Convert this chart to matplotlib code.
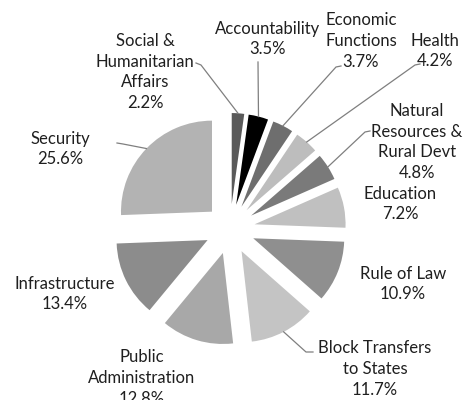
import matplotlib.pyplot as plt
import numpy as np

categories = ['Social &\nHumanitarian\nAffairs', 'Accountability', 'Economic\nFunctions', 'Health',
              'Natural\nResources &\nRural Devt', 'Education', 'Rule of Law',
              'Block Transfers\nto States', 'Public\nAdministration', 'Infrastructure', 'Security']
shares = [2.2, 3.5, 3.7, 4.2, 4.8, 7.2, 10.9, 11.7, 12.8, 13.4, 25.6]
colors = ['#5a5a5a', '#000000', '#6e6e6e', '#bdbdbd', '#7a7a7a', '#c0c0c0',
          '#8f8f8f', '#c4c4c4', '#a8a8a8', '#8c8c8c', '#b3b3b3']

# pixel layout of the 465x400 picture
W, H = 465, 400
cx, cy, R = 230, 229, 91
EXPLODE = 25 / R

# label centres (px) and leader elbows (px); None = no leader
label_pos = [(145, 72), (268, 39), (361, 41), (435, 51), (417, 142), (400, 204),
             (403, 284), (375, 369), (142, 378), (65, 294), (60, 149)]
elbows = [((201, 65), (196, 63)), ((258, 62), (258, 62)), ((336, 67), (341, 66)),
          ((415, 65), (420, 64)), ((365, 132), (370, 131)), None, None,
          ((306, 352), (313, 352)), None, None, ((123, 144), (117, 143))]


def px(x, y):
  return (x - cx) / R, (cy - y) / R


fig = plt.figure(figsize=(W / 100, H / 100), dpi=100)
ax = fig.add_axes([0, 0, 1, 1])
wedges, _ = ax.pie(shares, colors=colors, startangle=90, counterclock=False,
                   explode=[EXPLODE] * len(shares), radius=1,
                   wedgeprops=dict(linewidth=0))
ax.set_xlim(px(0, 0)[0], px(W, 0)[0])
ax.set_ylim(px(0, H)[1], px(0, 0)[1])
ax.set_aspect('equal')
ax.axis('off')

for w, name, val, pos, el in zip(wedges, categories, shares, label_pos, elbows):
  x, y = px(*pos)
  ax.text(x, y, f'{name}\n{val}%', ha='center', va='center', fontsize=12,
          family='Lato', color='#1f1f1f', linespacing=1.38)
  if el is None:
    continue
  mid = np.deg2rad((w.theta1 + w.theta2) / 2)
  wx = (EXPLODE + 1) * np.cos(mid)
  wy = (EXPLODE + 1) * np.sin(mid)
  e1 = px(*el[0])
  e2 = px(*el[1])
  ax.plot([wx, e1[0], e2[0]], [wy, e1[1], e2[1]], color='#7f7f7f', lw=0.9)

fig.savefig('out.png', dpi=100)
